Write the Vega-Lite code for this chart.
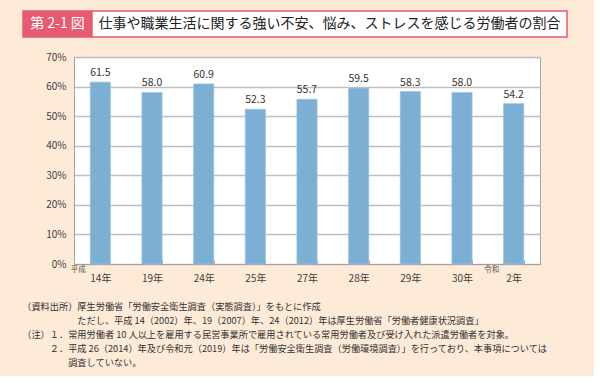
{
  "$schema": "https://vega.github.io/schema/vega-lite/v6.json",
  "background": "#FDEBD8",
  "padding": {"left": 22, "top": 10, "right": 26, "bottom": 7},
  "bounds": "full",
  "spacing": 13,
  "config": {
    "font": "Noto Sans CJK JP",
    "view": {"stroke": null},
    "concat": {"spacing": 0}
  },
  "title": {
    "text": [
      "（資料出所）厚生労働省「労働安全衛生調査（実態調査）」をもとに作成",
      "\u200b\u3000\u3000\u3000\u3000\u3000\u3000ただし、平成 14（2002）年、19（2007）年、24（2012）年は厚生労働省「労働者健康状況調査」",
      "（注）１．常用労働者 10 人以上を雇用する民営事業所で雇用されている常用労働者及び受け入れた派遣労働者を対象。",
      "\u200b\u3000\u3000\u3000２．平成 26（2014）年及び令和元（2019）年は「労働安全衛生調査（労働環境調査）」を行っており、本事項については",
      "\u200b\u3000\u3000\u3000\u3000\u3000調査していない。"
    ],
    "orient": "bottom",
    "anchor": "start",
    "frame": "bounds",
    "fontSize": 9.2,
    "fontWeight": "normal",
    "color": "#333333",
    "lineHeight": 14.2,
    "offset": 19,
    "dx": 0
  },
  "vconcat": [
    {
      "spacing": 0,
      "bounds": "flush",
      "hconcat": [
        {
          "width": 69,
          "height": 26,
          "data": {"values": [{"label": "第 2-1 図"}]},
          "view": {"fill": "#E75B72", "stroke": "#E75B72", "strokeWidth": 1.5},
          "mark": {"type": "text", "color": "white", "fontSize": 14, "align": "center", "baseline": "middle"},
          "encoding": {"text": {"field": "label"}}
        },
        {
          "width": 475,
          "height": 26,
          "data": {"values": [{"label": "仕事や職業生活に関する強い不安、悩み、ストレスを感じる労働者の割合"}]},
          "view": {"fill": "white", "stroke": "#E75B72", "strokeWidth": 1.5},
          "mark": {"type": "text", "color": "#222222", "fontSize": 14, "align": "center", "baseline": "middle"},
          "encoding": {"text": {"field": "label"}}
        }
      ]
    },
    {
      "spacing": 0,
      "bounds": "flush",
      "hconcat": [
        {
          "width": 51,
          "height": 207,
          "data": {"values": []},
          "view": {"fill": null, "stroke": null},
          "mark": "point"
        },
        {
          "width": 466,
          "height": 207,
          "view": {"fill": "white", "stroke": "#A6A6A6", "strokeWidth": 1},
          "encoding": {
            "x": {
              "field": "cat",
              "type": "nominal",
              "sort": null,
              "scale": {
                "domain": ["14年", "19年", "24年", "25年", "27年", "28年", "29年", "30年", "2年"],
                "paddingInner": 0.61,
                "paddingOuter": 0.315
              },
              "axis": {
                "title": null,
                "labelAngle": 0,
                "labelFontSize": 10,
                "labelColor": "#404040",
                "domainColor": "#A0A0A0",
                "tickBand": "extent",
                "tickColor": "#A0A0A0",
                "tickSize": -4,
                "labelPadding": 13
              }
            }
          },
          "layer": [
            {
              "data": {"name": "bars", "values": [
                {"cat": "14年", "value": 61.5},
                {"cat": "19年", "value": 58.0},
                {"cat": "24年", "value": 60.9},
                {"cat": "25年", "value": 52.3},
                {"cat": "27年", "value": 55.7},
                {"cat": "28年", "value": 59.5},
                {"cat": "29年", "value": 58.3},
                {"cat": "30年", "value": 58.0},
                {"cat": "2年", "value": 54.2}
              ]},
              "encoding": {
                "y": {
                  "field": "value",
                  "type": "quantitative",
                  "scale": {"domain": [0, 70]},
                  "axis": {
                    "title": null,
                    "values": [0, 10, 20, 30, 40, 50, 60, 70],
                    "labelExpr": "datum.value + '%'",
                    "ticks": false,
                    "domainColor": "#A0A0A0",
                    "gridColor": "#BFBFBF",
                    "gridWidth": 1.5,
                    "labelPadding": 8,
                    "labelFontSize": 10,
                    "labelColor": "#404040"
                  }
                }
              },
              "layer": [
                {
                  "mark": {"type": "bar", "color": "#7BAFD4", "stroke": "#9CC3E2", "strokeWidth": 0.8}
                },
                {
                  "mark": {"type": "text", "baseline": "bottom", "dy": -4, "fontSize": 10.5, "color": "#333333"},
                  "encoding": {
                    "text": {"field": "value", "type": "quantitative", "format": ".1f"}
                  }
                }
              ]
            },
            {
              "data": {"values": [{"cat": "14年", "era": "平成"}, {"cat": "2年", "era": "令和"}]},
              "mark": {"type": "text", "fontSize": 7.5, "color": "#555555", "dx": -22, "dy": 6, "baseline": "middle"},
              "encoding": {
                "y": {
                  "datum": 0,
                  "type": "quantitative",
                  "axis": {
                    "title": null,
                    "values": [0, 10, 20, 30, 40, 50, 60, 70],
                    "labelExpr": "datum.value + '%'",
                    "ticks": false,
                    "domainColor": "#A0A0A0",
                    "gridColor": "#BFBFBF",
                    "gridWidth": 1.5,
                    "labelPadding": 8,
                    "labelFontSize": 10,
                    "labelColor": "#404040"
                  }
                },
                "text": {"field": "era"}
              }
            }
          ]
        }
      ]
    }
  ]
}
